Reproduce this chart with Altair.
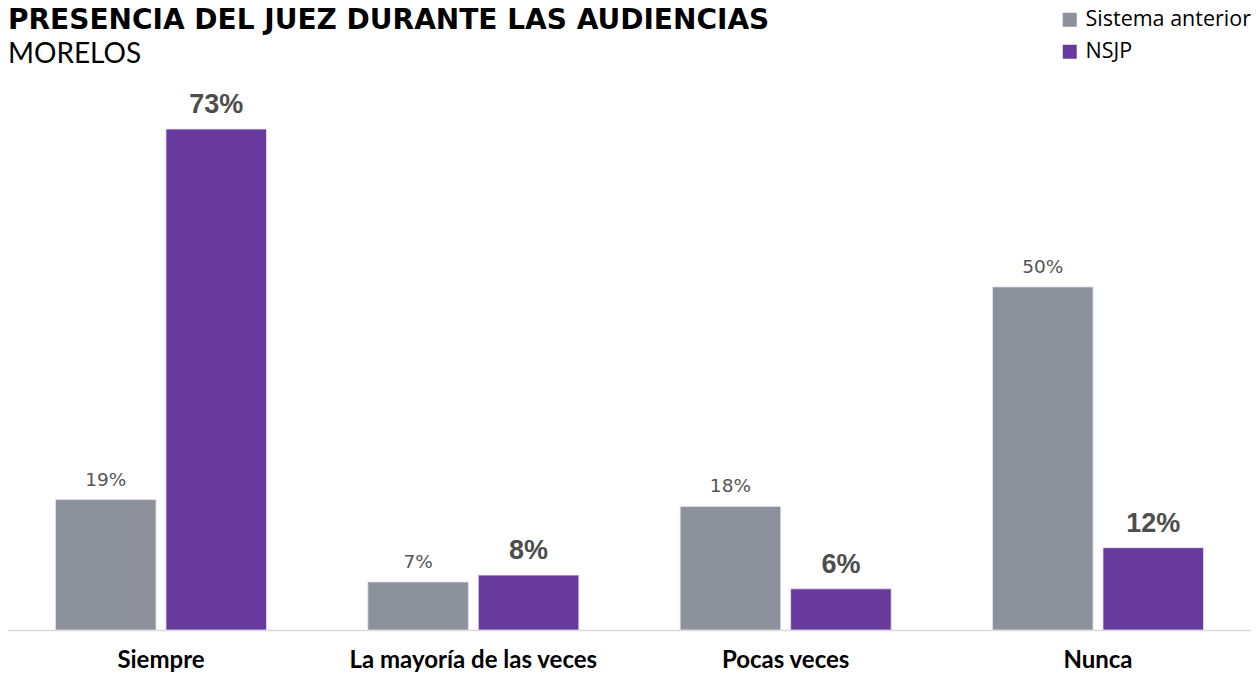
import altair as alt
import pandas as pd

title_text = "PRESENCIA DEL JUEZ DURANTE LAS AUDIENCIAS"
subtitle_text = "MORELOS"
categories = ["Siempre", "La mayoría de las veces", "Pocas veces", "Nunca"]
series = ["Sistema anterior", "NSJP"]
anterior = [19, 7, 18, 50]
nsjp = [73, 8, 6, 12]

rows = []
for c, a, n in zip(categories, anterior, nsjp):
    rows.append({"cat": c, "serie": series[0], "val": a, "label": f"{a}%"})
    rows.append({"cat": c, "serie": series[1], "val": n, "label": f"{n}%"})
df = pd.DataFrame(rows)

x = alt.X("cat:N", sort=categories, title=None,
          scale=alt.Scale(paddingInner=0.3244, paddingOuter=0.152),
          axis=alt.Axis(labelAngle=0, ticks=False, labelFont="Lato", labelFontSize=24,
                        labelFontWeight="bold", labelColor="#000000", domainColor="#d9d9d9",
                        domainWidth=1.5, labelPadding=18, labelLimit=0))
xo = alt.XOffset("serie:N", sort=series,
                 scale=alt.Scale(domain=series, paddingInner=0.09, paddingOuter=0))
y = alt.Y("val:Q", scale=alt.Scale(domain=[0, 80]), axis=None)
color = alt.Color("serie:N", sort=series,
                  scale=alt.Scale(domain=series, range=["#8d919c", "#693a9e"]),
                  legend=alt.Legend(title=None, orient="none", legendX=1051, legendY=-72,
                                    symbolType="square", symbolSize=196, symbolStrokeWidth=0,
                                    labelFont="Open Sans", labelFontSize=21.5, labelColor="#000000",
                                    labelOffset=5, rowPadding=9, labelLimit=0))

base = alt.Chart(df)
bars = base.mark_bar(stroke="#e6e2ee", strokeWidth=0.8).encode(x=x, xOffset=xo, y=y, color=color)
lab_a = base.transform_filter(alt.datum.serie == series[0]).mark_text(
    baseline="alphabetic", dy=-14, font="DejaVu Sans", fontSize=18.5, color="#555555"
).encode(x=x, xOffset=xo, y=y, text="label:N")
lab_n = base.transform_filter(alt.datum.serie == series[1]).mark_text(
    baseline="alphabetic", dy=-16, font="Liberation Sans", fontWeight="bold", fontSize=27, color="#4d4d4d"
).encode(x=x, xOffset=xo, y=y, text="label:N")

tdf = pd.DataFrame({"t": [title_text], "s": [subtitle_text]})
title_mark = alt.Chart(tdf).mark_text(
    align="left", baseline="alphabetic", font="DejaVu Sans", fontWeight="bold", fontSize=28, color="#000000"
).encode(x=alt.value(0), y=alt.value(-52), text="t:N")
sub_mark = alt.Chart(tdf).mark_text(
    align="left", baseline="alphabetic", font="Lato", fontSize=28, color="#000000"
).encode(x=alt.value(0), y=alt.value(-18), text="s:N")

chart = alt.layer(bars, lab_a, lab_n, title_mark, sub_mark).properties(
    width=1243, height=549,
    autosize=alt.AutoSizeParams(type="none"),
    padding={"top": 73, "left": 0, "right": 0, "bottom": 45},
).configure_view(stroke=None)

chart.save("out.html", embed_options={"renderer": "svg", "actions": False})
